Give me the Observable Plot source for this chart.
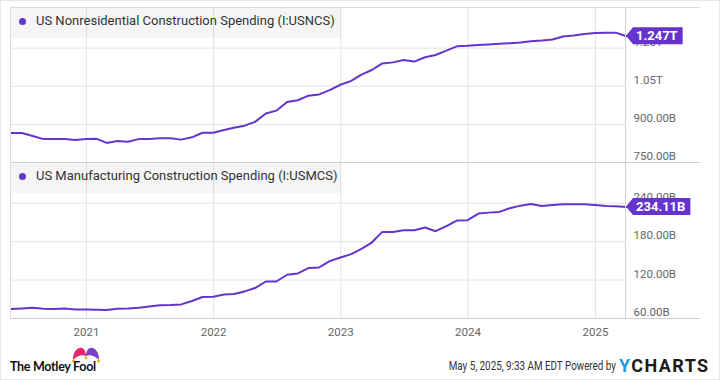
<!DOCTYPE html>
<html>
<head>
<meta charset="utf-8">
<script src="https://cdn.jsdelivr.net/npm/d3@7"></script>
<script src="https://cdn.jsdelivr.net/npm/@observablehq/plot@0.6"></script>
<style>
  html, body { margin: 0; padding: 0; background: #fff; }
  #root { position: relative; width: 720px; height: 380px; overflow: hidden; font-family: Roboto, "Noto Sans", sans-serif; }
  #root svg { position: absolute; left: 0; overflow: visible; }
  .band { position: absolute; left: 11px; height: 30px; background: rgba(0,0,0,0.04); }
  .legend { position: absolute; left: 36px; font-size: 13px; color: #333; white-space: nowrap; }
  .ldot { position: absolute; left: 19px; width: 7px; height: 7px; border-radius: 50%; background: #6633cc; }
  .hline { position: absolute; height: 1px; }
  .vline { position: absolute; width: 1px; }
  .footer { position: absolute; font-size: 12px; color: #333; white-space: nowrap; transform: scaleX(0.82); transform-origin: right center; }
</style>
</head>
<body>
<div id="root"></div>
<script>
// ---- data ----
const startMonthEnd = "2020-05-31"; // first observation (monthly, month-end)
const nonresidentialSeries = "US Nonresidential Construction Spending (I:USNCS)";
const manufacturingSeries = "US Manufacturing Construction Spending (I:USMCS)";
// billions of USD
const nonresidential = [866, 866, 854, 842, 842, 842, 839, 842, 843, 827, 835, 832, 842, 842, 845, 845, 840, 849, 867, 867, 878, 887, 895, 910, 943, 954, 988, 995, 1013, 1018, 1035, 1056, 1071, 1095, 1114, 1140, 1144, 1153, 1147, 1164, 1173, 1190, 1207, 1209, 1212, 1214, 1217, 1219, 1222, 1227, 1230, 1234, 1246, 1250, 1256, 1260, 1261, 1261, 1247];
const manufacturing = [74.8, 75.8, 76.8, 75.3, 74.8, 75.8, 74.2, 74.2, 73.7, 73.2, 75.3, 75.8, 76.8, 78.9, 80.5, 81.0, 82.0, 87.3, 93.5, 94.0, 97.6, 98.2, 102.3, 107.5, 117.8, 117.8, 128.3, 130.3, 138.7, 139.7, 149.5, 155.2, 160.5, 168.3, 178.6, 195.2, 195.2, 197.9, 197.9, 202.0, 196.3, 204.1, 212.9, 213.5, 223.8, 225.3, 226.4, 232.2, 236.2, 238.9, 235.8, 237.3, 238.4, 238.4, 238.4, 237.3, 235.8, 235.3, 234.11];
const topTicks = [750, 900, 1050, 1200];
const bottomTicks = [60, 120, 180, 240];
const yearTicks = ["2021", "2022", "2023", "2024", "2025"];
const topLastLabel = "1.247T";
const bottomLastLabel = "234.11B";

// ---- build tables ----
const startDate = new Date(startMonthEnd + "T00:00:00Z");
const firstMonthStart = d3.utcMonth.offset(d3.utcMonth.floor(startDate), 1);
const dates = nonresidential.map((_, i) => d3.utcDay.offset(d3.utcMonth.offset(firstMonthStart, i), -1));
const topData = nonresidential.map((v, i) => ({date: dates[i], value: v}));
const botData = manufacturing.map((v, i) => ({date: dates[i], value: v}));
const yearDates = yearTicks.map(y => new Date(Date.UTC(+y, 0, 1)));

const purple = "#6633cc";
const gridColor = "#e4e4e4";
const fmt = v => v >= 1000 ? (v / 1000).toFixed(2) + "T" : v.toFixed(2) + "B";
const xDomain = [dates[0], dates[dates.length - 1]];

const root = document.getElementById("root");

function panel({data, ticks, yDomain, height, marginTop, marginBottom, showX}) {
  const marks = [
    Plot.ruleX(yearDates, {stroke: gridColor, strokeWidth: 1}),
    Plot.ruleY(ticks, {stroke: gridColor, strokeWidth: 1}),
    Plot.axisY({ticks, anchor: "right", tickSize: 0, tickPadding: 7, dy: -6, tickFormat: fmt, color: "#666", fontSize: 11.5, label: null})
  ];
  if (showX) marks.push(Plot.axisX({ticks: yearDates, anchor: "bottom", tickSize: 0, tickPadding: 9, tickFormat: d3.utcFormat("%Y"), color: "#666", fontSize: 11.5, label: null}));
  marks.push(Plot.lineY(data, {x: "date", y: "value", stroke: purple, strokeWidth: 2, curve: "linear"}));
  return Plot.plot({
    width: 720, height, marginTop, marginBottom, marginLeft: 11, marginRight: 94,
    x: {type: "utc", domain: xDomain, axis: null},
    y: {domain: yDomain, axis: null},
    style: {fontFamily: "Roboto, sans-serif", background: "transparent", overflow: "visible"},
    marks
  });
}

const ctx = document.createElement("canvas").getContext("2d");
function addTag(svg, datum, label) {
  const sx = svg.scale("x"), sy = svg.scale("y");
  const px = sx.apply(datum.date), py = sy.apply(datum.value);
  ctx.font = "bold 13px Roboto";
  const tw = ctx.measureText(label).width;
  const h = 17, a = 7, w = tw + 15;
  const g = d3.select(svg).append("g");
  g.append("path")
    .attr("d", `M${px},${py} L${px + a},${py - h / 2} H${px + w} V${py + h / 2} H${px + a} Z`)
    .attr("fill", purple);
  g.append("text")
    .attr("x", px + 10).attr("y", py).attr("dy", "0.36em")
    .attr("text-anchor", "start")
    .attr("fill", "#fff").attr("font-weight", "bold").attr("font-size", 13)
    .attr("font-family", "Roboto, sans-serif")
    .text(label);
}

const topPanel = panel({data: topData, ticks: topTicks, yDomain: [750, 1356], height: 162, marginTop: 8, marginBottom: 0, showX: false});
topPanel.style.top = "0px";
root.appendChild(topPanel);
addTag(topPanel, topData[topData.length - 1], topLastLabel);

const botPanel = panel({data: botData, ticks: bottomTicks, yDomain: [60, 302], height: 218, marginTop: 1, marginBottom: 62, showX: true});
botPanel.style.top = "162px";
root.appendChild(botPanel);
addTag(botPanel, botData[botData.length - 1], bottomLastLabel);

// frame lines
function hline(y, x1, x2, c) { const d = document.createElement("div"); d.className = "hline"; Object.assign(d.style, {top: y + "px", left: x1 + "px", width: (x2 - x1) + "px", background: c}); root.appendChild(d); }
function vline(x, y1, y2, c) { const d = document.createElement("div"); d.className = "vline"; Object.assign(d.style, {left: x + "px", top: y1 + "px", height: (y2 - y1) + "px", background: c}); root.appendChild(d); }
hline(7, 10, 700, "#dcdcdc");
hline(162, 10, 700, "#cfcfcf");
hline(318, 10, 700, "#cfcfcf");
vline(10, 7, 319, "#dcdcdc");
vline(625, 7, 319, "#cfcfcf");

// legend bands
function legend(y, text) {
  const b = document.createElement("div"); b.className = "band";
  Object.assign(b.style, {top: y + "px", width: "330px"}); root.appendChild(b);
  const dot = document.createElement("div"); dot.className = "ldot"; dot.style.top = (y + 10) + "px"; root.appendChild(dot);
  const t = document.createElement("div"); t.className = "legend"; t.style.top = (y + 5) + "px"; t.textContent = text; root.appendChild(t);
}
legend(8, nonresidentialSeries);
legend(163, manufacturingSeries);

// footer
const foot = document.createElement("div");
foot.innerHTML = `
<svg style="position:absolute;left:10px;top:346px" width="92" height="30">
  <g transform="translate(62,1)">
    <path d="M1,13 C1,4 6,0 10,1 C13,2 14,6 14,9 C10,7 5,9 1,13 Z" fill="#e8246f"/>
    <path d="M27,13 C27,4 22,0 18,1 C15,2 14,6 14,9 C18,7 23,9 27,13 Z" fill="#7a3fc4"/>
    <circle cx="1.5" cy="14" r="1.6" fill="#f5b400"/>
    <circle cx="26.5" cy="14" r="1.6" fill="#f5b400"/>
    <circle cx="14" cy="11" r="1.4" fill="#f5b400"/>
  </g>
  <text x="0" y="25" font-family="Lato, Roboto, sans-serif" font-weight="700" font-size="12.5" fill="#111" letter-spacing="-0.3">The Motley Fool</text>
</svg>
<div class="footer" style="right:104px;top:359px;">May 5, 2025, 9:33 AM EDT Powered by</div>
<div style="position:absolute;left:619px;top:355px;font-family:Roboto, sans-serif;font-weight:700;font-size:18px;letter-spacing:1.4px;white-space:nowrap;"><span style="color:#1e9be8">Y</span><span style="color:#1b1b1b">CHARTS</span></div>
`;
root.appendChild(foot);

// outer frame
const frame = document.createElement("div");
Object.assign(frame.style, {position: "absolute", left: "0", top: "0", width: "718px", height: "378px", border: "1px solid #e6e6e6", pointerEvents: "none"});
root.appendChild(frame);
</script>
</body>
</html>
